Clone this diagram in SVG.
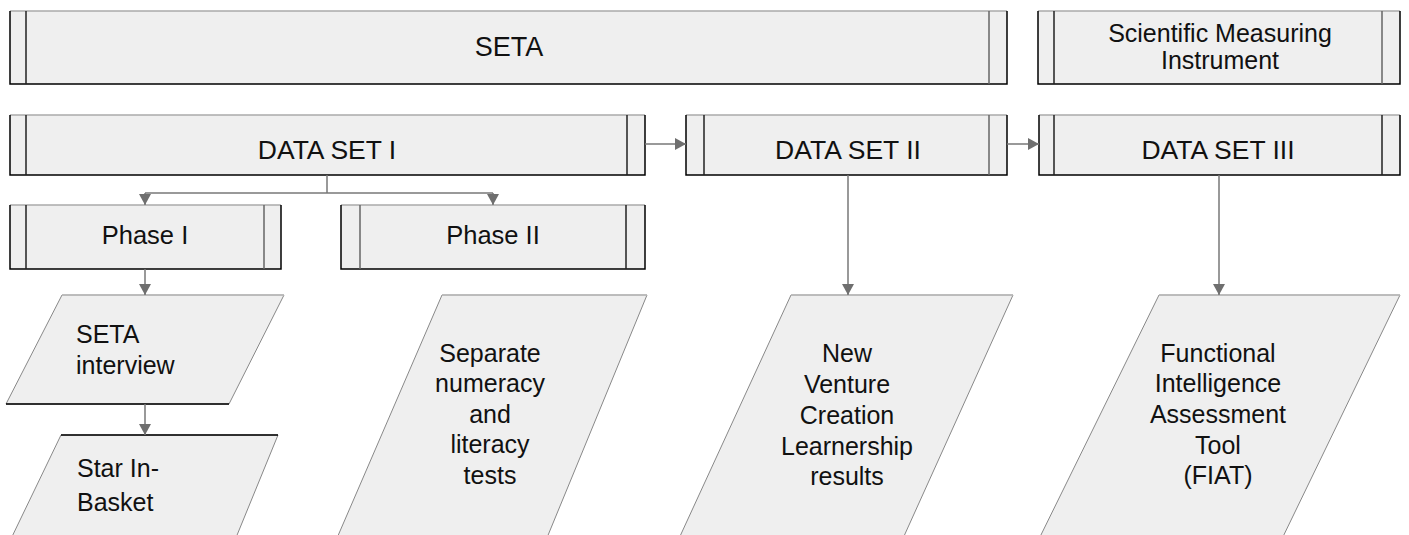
<svg xmlns="http://www.w3.org/2000/svg" width="1409" height="535" viewBox="0 0 1409 535">
<style>
.bg{fill:#ffffff}
.fill{fill:#efefef;stroke:none}
.top{stroke:#aaaaaa;stroke-width:1.5;fill:none}
.edge{stroke:#000000;stroke-width:1.5;fill:none}
.inL{stroke:#222222;stroke-width:1.5}
.inR{stroke:#666666;stroke-width:1.5}
.para{fill:#efefef;stroke:#888888;stroke-width:1}
.ptop{stroke:#bbbbbb;stroke-width:1.5}
.pbot{stroke:#000000;stroke-width:1.5}
.t{font-family:"Liberation Sans",Arial,sans-serif;font-size:25px;fill:#111111}
.big{font-size:26.5px}
.c{text-anchor:middle}
.con{stroke:#777777;stroke-width:1.5;fill:none}
</style>
<defs>
<marker id="arr" viewBox="0 0 11 12" refX="11" refY="6" markerWidth="11" markerHeight="12" markerUnits="userSpaceOnUse" orient="auto">
<path d="M0,0 L11,6 L0,12 Z" fill="#6f6f6f"/>
</marker>
</defs>
<rect class="bg" x="0" y="0" width="1409" height="535"/>

<g id="seta">
<rect class="fill" x="10" y="11" width="997" height="73"/>
<line class="top" x1="10" y1="11" x2="1007" y2="11"/>
<polyline class="edge" points="10,11 10,84 1007,84 1007,11"/>
<line class="inL" x1="26" y1="11" x2="26" y2="84"/>
<line class="inR" x1="989" y1="11" x2="989" y2="84"/>
<text class="t c" x="509" y="56" style="font-size:27px">SETA</text>
</g>

<g id="scientific">
<rect class="fill" x="1038" y="11" width="362" height="73"/>
<line class="top" x1="1038" y1="11" x2="1400" y2="11"/>
<polyline class="edge" points="1038,11 1038,84 1400,84 1400,11"/>
<line class="inL" x1="1054" y1="11" x2="1054" y2="84"/>
<line class="inR" x1="1382" y1="11" x2="1382" y2="84"/>
<text class="t c" x="1220" y="41.5">Scientific Measuring</text>
<text class="t c" x="1220" y="69">Instrument</text>
</g>

<g id="dataset1">
<rect class="fill" x="10" y="115" width="635" height="60"/>
<line class="top" x1="10" y1="115" x2="645" y2="115"/>
<polyline class="edge" points="10,115 10,175 645,175 645,115"/>
<line class="inL" x1="26" y1="115" x2="26" y2="175"/>
<line class="inL" x1="627" y1="115" x2="627" y2="175"/>
<text class="t c big" x="327" y="159">DATA SET I</text>
</g>

<g id="dataset2">
<rect class="fill" x="686" y="115" width="321" height="60"/>
<line class="top" x1="686" y1="115" x2="1007" y2="115"/>
<polyline class="edge" points="686,115 686,175 1007,175 1007,115"/>
<line class="inL" x1="704" y1="115" x2="704" y2="175"/>
<line class="inR" x1="989" y1="115" x2="989" y2="175"/>
<text class="t c big" x="848" y="159">DATA SET II</text>
</g>

<g id="dataset3">
<rect class="fill" x="1039" y="115" width="361" height="60"/>
<line class="top" x1="1039" y1="115" x2="1400" y2="115"/>
<polyline class="edge" points="1039,115 1039,175 1400,175 1400,115"/>
<line class="inL" x1="1054" y1="115" x2="1054" y2="175"/>
<line class="inL" x1="1382" y1="115" x2="1382" y2="175"/>
<text class="t c big" x="1218" y="159">DATA SET III</text>
</g>

<g id="phase1">
<rect class="fill" x="10" y="205" width="271" height="64"/>
<line class="top" x1="10" y1="205" x2="281" y2="205"/>
<polyline class="edge" points="10,205 10,269 281,269 281,205"/>
<line class="inL" x1="26" y1="205" x2="26" y2="269"/>
<line class="inR" x1="264" y1="205" x2="264" y2="269"/>
<text class="t c" x="145" y="244" style="font-size:25.5px">Phase I</text>
</g>

<g id="phase2">
<rect class="fill" x="341" y="205" width="304" height="64"/>
<line class="top" x1="341" y1="205" x2="645" y2="205"/>
<polyline class="edge" points="341,205 341,269 645,269 645,205"/>
<line class="inR" x1="360" y1="205" x2="360" y2="269"/>
<line class="inL" x1="626" y1="205" x2="626" y2="269"/>
<text class="t c" x="493" y="244" style="font-size:25.5px">Phase II</text>
</g>

<g id="seta-interview">
<polygon class="para" points="62,295 284,295 229,404 6,404"/>
<line class="ptop" x1="62" y1="295" x2="284" y2="295"/>
<line class="pbot" x1="6" y1="404" x2="229" y2="404"/>
<text class="t" x="76" y="343">SETA</text>
<text class="t" x="76" y="374">interview</text>
</g>

<g id="star-in-basket">
<polygon class="para" points="61,435 278,435 233,545 8,545"/>
<line class="pbot" x1="61" y1="435" x2="278" y2="435"/>
<text class="t" x="77" y="477">Star In-</text>
<text class="t" x="77" y="511">Basket</text>
</g>

<g id="separate-tests">
<polygon class="para" points="442,295 647,295 544,545 334,545"/>
<line class="ptop" x1="442" y1="295" x2="647" y2="295"/>
<text class="t c" x="490" y="362">Separate</text>
<text class="t c" x="490" y="392">numeracy</text>
<text class="t c" x="490" y="423">and</text>
<text class="t c" x="490" y="453">literacy</text>
<text class="t c" x="490" y="484">tests</text>
</g>

<g id="nvc-results">
<polygon class="para" points="791,295 1013,295 900,545 676,545"/>
<line class="ptop" x1="791" y1="295" x2="1013" y2="295"/>
<text class="t c" x="847" y="362">New</text>
<text class="t c" x="847" y="393">Venture</text>
<text class="t c" x="847" y="424">Creation</text>
<text class="t c" x="847" y="455">Learnership</text>
<text class="t c" x="847" y="485">results</text>
</g>

<g id="fiat">
<polygon class="para" points="1159,295 1400,295 1279,545 1036,545"/>
<line class="ptop" x1="1159" y1="295" x2="1400" y2="295"/>
<text class="t c" x="1218" y="362">Functional</text>
<text class="t c" x="1218" y="392">Intelligence</text>
<text class="t c" x="1218" y="423">Assessment</text>
<text class="t c" x="1218" y="454">Tool</text>
<text class="t c" x="1218" y="484">(FIAT)</text>
</g>

<g id="connectors">
<polyline class="con" points="327,175 327,193"/>
<polyline class="con" points="145,193 493,193"/>
<line class="con" x1="145" y1="193" x2="145" y2="205" marker-end="url(#arr)"/>
<line class="con" x1="493" y1="193" x2="493" y2="205" marker-end="url(#arr)"/>
<line class="con" x1="145" y1="269" x2="145" y2="295" marker-end="url(#arr)"/>
<line class="con" x1="145" y1="404" x2="145" y2="435" marker-end="url(#arr)"/>
<line class="con" x1="645" y1="144" x2="686" y2="144" marker-end="url(#arr)"/>
<line class="con" x1="1007" y1="144" x2="1039" y2="144" marker-end="url(#arr)"/>
<line class="con" x1="848" y1="175" x2="848" y2="295" marker-end="url(#arr)"/>
<line class="con" x1="1219" y1="175" x2="1219" y2="295" marker-end="url(#arr)"/>
</g>
</svg>
